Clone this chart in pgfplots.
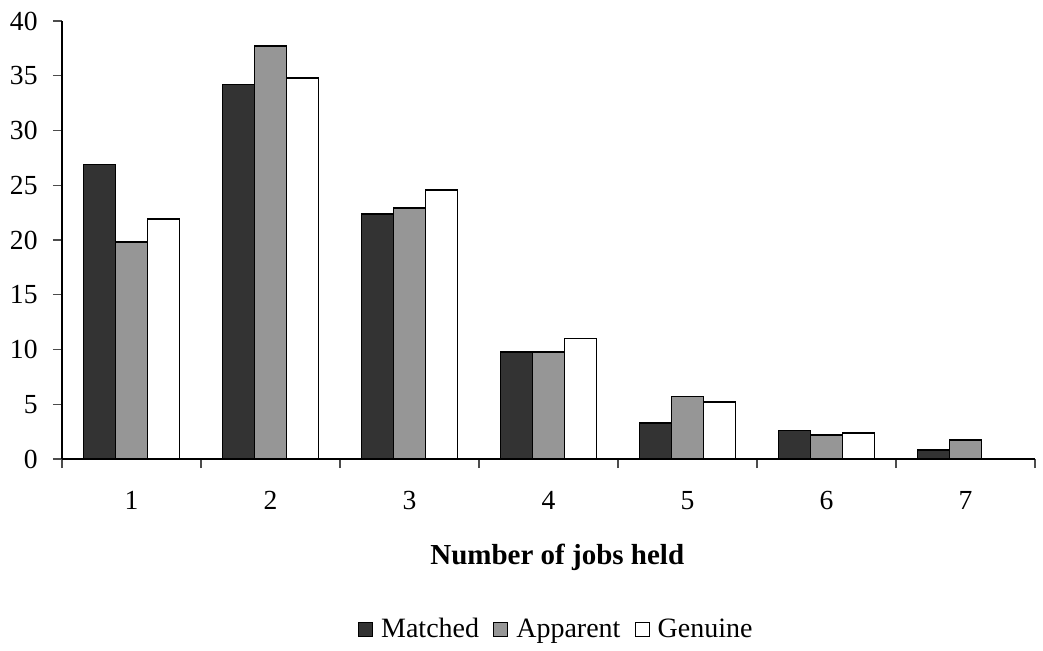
\documentclass[border=0pt]{standalone}
\usepackage{fontspec}
\setmainfont{Liberation Serif}
\usepackage{pgfplots}
\pgfplotsset{compat=1.18}
\definecolor{cmatched}{HTML}{333333}
\definecolor{capparent}{HTML}{969696}
\begin{document}
\fontsize{13.5}{16}\selectfont
\begin{tikzpicture}
\path[use as bounding box] (0,0) rectangle (521.5pt,325pt);
\begin{axis}[
  at={(31pt,95.5pt)}, anchor=south west,
  scale only axis, width=486.5pt, height=219pt,
  /pgf/number format/assume math mode=true,
  xmin=0.5, xmax=7.5, ymin=0, ymax=40,
  axis x line=bottom, axis y line=left,
  axis line style={-, black, line width=0.6pt},
  xtick={1,...,7},
  minor xtick={0.5,1.5,...,7.5},
  major x tick style={draw=none},
  minor x tick style={draw=black!70, line width=0.6pt},
  ytick={0,5,...,40},
  y tick style={draw=black!70, line width=0.6pt},
  tick align=outside,
  major tick length=4.5pt, minor tick length=4.5pt,
  ticklabel style={font=\fontsize{13.8}{16}\selectfont},
  yticklabel style={xshift=-3pt},
  xticklabel style={yshift=-7pt},
  ybar=0pt, bar width=0.23,
  xlabel={\textbf{Number of jobs held}},
  xlabel style={at={(axis description cs:0.509,-0.224)}, anchor=center, font=\fontsize{14.5}{16}\selectfont},
  legend columns=3,
  legend style={at={(axis description cs:0.509,-0.39)}, anchor=center, draw=none, font=\fontsize{14}{16}\selectfont,
    /tikz/every odd column/.append style={column sep=2pt},
    /tikz/every even column/.append style={column sep=5pt}},
  legend image code/.code={\draw[#1, line width=0.6pt] (0pt,-3.5pt) rectangle (7pt,3.5pt);},
]
\addplot[fill=cmatched, draw=black, line width=0.9pt, bar shift=-0.23] coordinates {(1,26.9) (2,34.2) (3,22.4) (4,9.8) (5,3.3) (6,2.6) (7,0.85)};
\addplot[fill=capparent, draw=black, line width=0.9pt, bar shift=0] coordinates {(1,19.8) (2,37.7) (3,22.9) (4,9.8) (5,5.7) (6,2.2) (7,1.7)};
\addplot[fill=white, draw=black, line width=0.9pt, bar shift=0.23] coordinates {(1,21.9) (2,34.8) (3,24.6) (4,11.0) (5,5.2) (6,2.4)};
\legend{Matched,Apparent,Genuine}
\end{axis}
\end{tikzpicture}
\end{document}
